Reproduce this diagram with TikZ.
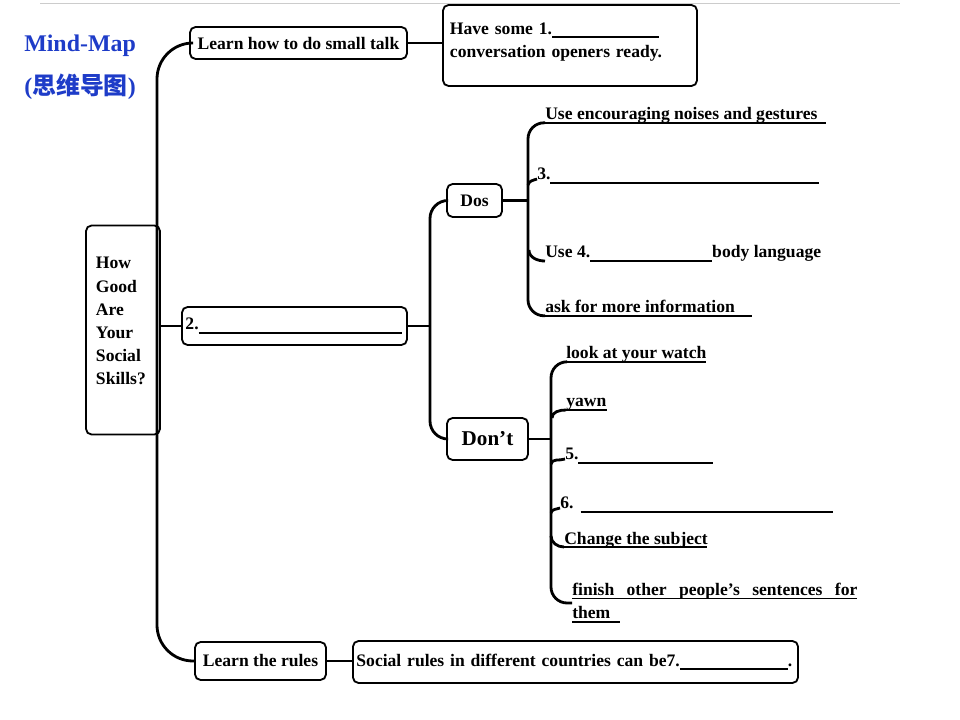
\documentclass[tikz,border=0pt]{standalone}
\usepackage{fontspec}
\setmainfont{Liberation Serif}
\newfontfamily\cjk{Noto Sans CJK SC}
\usepackage{tikz}
\definecolor{mapblue}{RGB}{30,60,200}
\newcommand{\mapfont}{\bfseries\fontsize{12.5}{16.5}\selectfont}
\newcommand{\blank}[1]{\rule[-2.6pt]{#1}{1.2pt}}
\newcommand{\uln}[2]{\rlap{\rule[-2.6pt]{#1}{1.2pt}}#2}
\tikzset{
  box/.style={draw, rounded corners=4pt, line width=1.3pt, inner sep=0pt, font=\mapfont},
  txt/.style={inner sep=0pt, font=\mapfont, align=left},
  title/.style={inner sep=0pt, text=mapblue, font=\bfseries\fontsize{17}{20}\selectfont},
  link/.style={line width=1.6pt},
  spine/.style={line width=2pt},
}

\begin{document}
\begin{tikzpicture}[x=0.025cm, y=-0.025cm]
 \useasboundingbox (0,0) rectangle (960,720);
 \draw[gray!40, line width=0.7pt] (40,3) -- (900,3);

 \node[title, anchor=base west] (mm) at (24,52) {Mind-Map};
 \node[title, anchor=base west] (cn) at (24,95) {({\cjk 思维导图})};

 \node[box, minimum width=1.85cm, minimum height=5.225cm, text width=1.35cm, align=left, text depth=95pt] (skills) at (123,330) {How\\Good\\Are\\Your\\Social\\Skills?};
 \node[box, minimum width=5.425cm, minimum height=0.8cm] (small) at (298.5,43) {Learn how to do small talk};
 \node[box, minimum width=6.35cm, minimum height=2.025cm, text width=6cm, align=left, text depth=24pt] (opener) at (570,45.5) {Have some 1.\blank{2.675cm}\\conversation openers ready.};
 \node[box, minimum width=5.625cm, minimum height=0.95cm, text width=5.45cm, align=left] (two) at (294.5,326) {2.\blank{5.075cm}};
 \node[box, minimum width=1.375cm, minimum height=0.825cm] (dos) at (474.5,200.5) {Dos};
 \node[box, minimum width=2.025cm, minimum height=1.05cm, font=\bfseries\fontsize{15}{18}\selectfont] (dont) at (487.5,439) {Don’t};
 \node[box, minimum width=3.275cm, minimum height=0.95cm] (rules) at (260.5,661) {Learn the rules};
 \node[box, minimum width=11.125cm, minimum height=1.05cm, text width=10.95cm, align=left] (social) at (575.5,662) {Social rules in different countries can be7.\blank{2.7cm}.};

 \node[txt, anchor=base west] (enc)    at (545,120) {\uln{7.025cm}{Use encouraging noises and gestures}};
 \node[txt, anchor=base west] (three)  at (537,180) {3.\blank{6.7cm}};
 \node[txt, anchor=base west] (four)   at (545,258) {Use 4.\blank{3.05cm}body language};
 \node[txt, anchor=base west] (ask)    at (545,313) {\uln{5.175cm}{ask for more information}};
 \node[txt, anchor=base west] (watch)  at (566,359) {\uln{3.5cm}{look at your watch}};
 \node[txt, anchor=base west] (yawn)   at (566,407) {\uln{1.03cm}{yawn}};
 \node[txt, anchor=base west] (five)   at (565,460) {5.\blank{3.35cm}};
 \node[txt, anchor=base west] (six)    at (560,509) {6.\hspace{5pt}\blank{6.3cm}};
 \node[txt, anchor=base west] (change) at (564,544) {\uln{3.575cm}{Change the subject}};
 \node[txt, anchor=west] (finish) at (572,603) {\uln{7.125cm}{\makebox[7.125cm][s]{finish other people’s sentences for}}\\\uln{1.2cm}{them}};

 \coordinate (mainsp) at (157,330);
 \coordinate (subsp)  at (430,326);
 \coordinate (dossp)  at (528,200.5);
 \coordinate (dontsp) at (551,439);

 \draw[spine, rounded corners=0.9cm] (small.west) -| (mainsp) |- (rules.west);
 \draw[link] (small.east) -- (small.east -| opener.west);
 \draw[link] (skills.east |- two.west) -- (two.west);
 \draw[link] (two.east) -- (subsp);
 \draw[spine, rounded corners=0.45cm] (dos.west) -| (subsp) |- (dont.west);
 \draw[link] (dos.east) -- (dossp);
 \draw[link] (dont.east) -- (dontsp);
 \draw[link] (rules.east) -- (rules.east -| social.west);

 \draw[spine, rounded corners=0.4cm] ([yshift=-2pt]enc.base west) -| (dossp) |- ([yshift=-2pt]ask.base west);
 \draw[spine] ([shift={(-9,5)}]three.base west) to[out=80,in=200] ([shift={(0,-1)}]three.base west);
 \draw[spine] ([shift={(-16,-8)}]four.base west) to[out=-90,in=180] ([shift={(0,3)}]four.base west);

 \draw[spine, rounded corners=0.4cm] ([yshift=-2pt]watch.base west) -| (dontsp) |- (finish.west);
 \draw[spine] ([shift={(-14,11)}]yawn.base west) to[out=90,in=180] ([shift={(0,3)}]yawn.base west);
 \draw[spine] ([shift={(-14,4)}]five.base west) to[out=80,in=200] ([shift={(0,-1)}]five.base west);
 \draw[spine] ([shift={(-9,4)}]six.base west) to[out=80,in=200] ([shift={(0,-1)}]six.base west);
 \draw[spine] ([shift={(-13,-8)}]change.base west) to[out=-90,in=180] ([shift={(0,3)}]change.base west);
\end{tikzpicture}
\end{document}
